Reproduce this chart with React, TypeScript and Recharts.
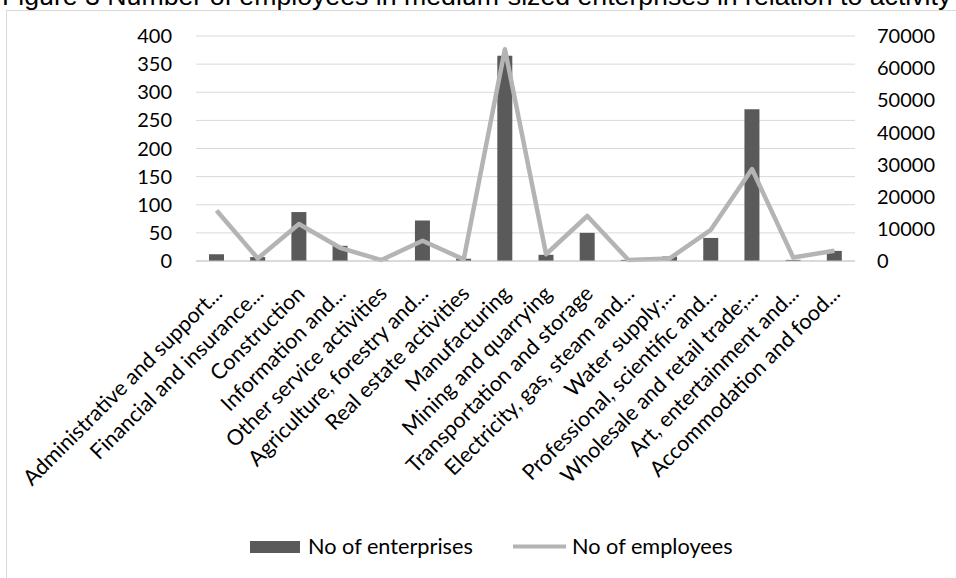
import React from 'react';
import { ComposedChart, Bar, Line, XAxis, YAxis, CartesianGrid } from 'recharts';

const categories = [
  'Administrative and support...',
  'Financial and insurance...',
  'Construction',
  'Information and...',
  'Other service activities',
  'Agriculture, forestry and...',
  'Real estate activities',
  'Manufacturing',
  'Mining and quarrying',
  'Transportation and storage',
  'Electricity, gas, steam and...',
  'Water supply;...',
  'Professional, scientific and...',
  'Wholesale and retail trade;...',
  'Art, entertainment and...',
  'Accommodation and food...',
];
const enterprises = [12, 7, 87, 27, 1, 72, 4, 365, 11, 50, 2, 8, 41, 270, 2, 18];
const employees = [15700, 800, 11500, 4100, 300, 6300, 500, 65900, 2100, 14000, 300, 800, 9700, 28600, 1100, 3200];
const leftTicks = [0, 50, 100, 150, 200, 250, 300, 350, 400];
const rightTicks = [0, 10000, 20000, 30000, 40000, 50000, 60000, 70000];

const title = 'Figure 3 Number of employees in medium-sized enterprises in relation to activity';

const FONT = 'Lato, "Open Sans", sans-serif';
const BAR_COLOR = '#5a5a5a';
const LINE_COLOR = '#b4b4b4';

const data = categories.map((name, i) => ({
  name,
  enterprises: enterprises[i],
  employees: employees[i],
}));

function CategoryTick({ x, y, payload }: any) {
  const tx = x + 7;
  const ty = y + 34;
  return (
    <text
      x={tx}
      y={ty}
      transform={`rotate(-45 ${tx} ${ty})`}
      textAnchor="end"
      fontSize={21.5}
      fontFamily={FONT}
      fill="#000"
    >
      {payload.value}
    </text>
  );
}

export default function App() {
  const tickStyle = { fontSize: 20, fontFamily: FONT, fill: '#000' };
  return (
    <div style={{ position: 'fixed', left: 0, top: 0, width: 956, height: 578, overflow: 'hidden', background: '#fff' }}>
      {/* chart frame, runs off the right and bottom edges */}
      <div
        style={{
          position: 'absolute',
          left: 6,
          top: 10,
          width: 980,
          height: 600,
          border: '1px solid #d9d9d9',
        }}
      />
      <svg width={956} height={20} style={{ position: 'absolute', left: 0, top: 0 }}>
        <text x={2} y={5} fontSize={26.7} fontFamily='"Liberation Sans", Arial, sans-serif' fill="#000">
          {title}
        </text>
      </svg>
      <div style={{ position: 'absolute', left: 0, top: 0 }}>
        <ComposedChart
          width={956}
          height={578}
          data={data}
          margin={{ top: 36, right: 0, left: 0, bottom: 67 }}
        >
          <CartesianGrid yAxisId="left" vertical={false} stroke="#d9d9d9" strokeWidth={1} />
          <XAxis
            dataKey="name"
            interval={0}
            height={250}
            tickLine={false}
            tickSize={0}
            tickMargin={0}
            stroke="#c8c8c8"
            tick={<CategoryTick />}
          />
          <YAxis
            yAxisId="left"
            orientation="left"
            width={196}
            domain={[0, 400]}
            ticks={leftTicks}
            axisLine={false}
            tickLine={false}
            tickSize={0}
            tickMargin={24}
            tick={tickStyle}
          />
          <YAxis
            yAxisId="right"
            orientation="right"
            width={101}
            domain={[0, 70000]}
            ticks={rightTicks}
            axisLine={false}
            tickLine={false}
            tickSize={0}
            tickMargin={22}
            tick={{ ...tickStyle, textAnchor: 'start' }}
          />
          <Bar
            yAxisId="left"
            dataKey="enterprises"
            name="No of enterprises"
            fill={BAR_COLOR}
            barSize={15}
            isAnimationActive={false}
          />
          <Line
            yAxisId="right"
            dataKey="employees"
            name="No of employees"
            stroke={LINE_COLOR}
            strokeWidth={4.5}
            dot={false}
            activeDot={false}
            strokeLinejoin="round"
            isAnimationActive={false}
          />
        </ComposedChart>
      </div>
      {/* legend */}
      <svg width={956} height={40} style={{ position: 'absolute', left: 0, top: 528 }}>
        <rect x={250} y={13} width={50} height={12} fill={BAR_COLOR} />
        <text x={308} y={26} fontSize={21.7} fontFamily={FONT} fill="#000">No of enterprises</text>
        <line x1={513} y1={18.5} x2={566} y2={18.5} stroke={LINE_COLOR} strokeWidth={4} />
        <text x={572} y={26} fontSize={21.7} fontFamily={FONT} fill="#000">No of employees</text>
      </svg>
    </div>
  );
}
